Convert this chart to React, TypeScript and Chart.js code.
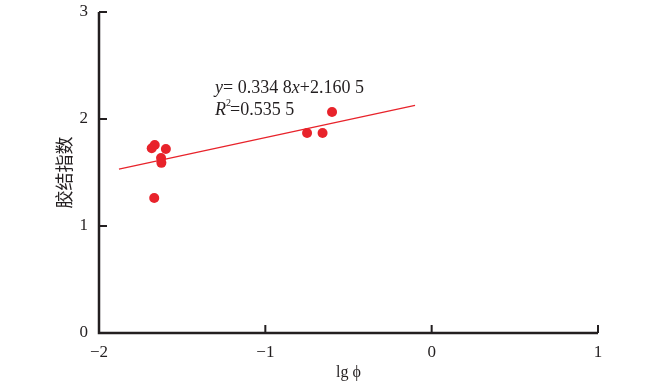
import React, { useEffect, useRef } from "react";
import { Chart, registerables } from "chart.js";

Chart.register(...registerables);

const pointX = [-1.683, -1.665, -1.598, -1.627, -1.625, -1.668, -0.749, -0.656, -0.599];
const pointY = [1.727, 1.757, 1.72, 1.636, 1.59, 1.262, 1.869, 1.869, 2.065];
const fitX = [-1.88, -0.1];
const fitY = [1.531, 2.127];
const xTicks = [-2, -1, 0, 1];
const yTicks = [0, 1, 2, 3];
const eqLine1 = [
  { t: "y", i: true },
  { t: "= 0.334 8", i: false },
  { t: "x", i: true },
  { t: "+2.160 5", i: false },
];
const eqAnchor = { x: -1.302, y1: 2.285, y2: 2.08 };

const RED = "#e8232b";
const INK = "#231f20";
const SERIF = "'Liberation Serif', 'Times New Roman', serif";

const axesPlugin = {
  id: "customAxes",
  afterDraw(chart: any) {
    const ctx = chart.ctx;
    const { left, right, top, bottom } = chart.chartArea;
    const xs = chart.scales.x;
    const ys = chart.scales.y;
    ctx.save();
    ctx.strokeStyle = INK;
    ctx.lineWidth = 2.5;
    ctx.beginPath();
    ctx.moveTo(left, top);
    ctx.lineTo(left, bottom);
    ctx.lineTo(right, bottom);
    ctx.stroke();
    ctx.lineWidth = 2;
    ctx.beginPath();
    for (const v of yTicks) {
      const p = ys.getPixelForValue(v);
      ctx.moveTo(left, p);
      ctx.lineTo(left + 8, p);
    }
    for (const v of xTicks) {
      const p = xs.getPixelForValue(v);
      ctx.moveTo(p, bottom);
      ctx.lineTo(p, bottom - 8);
    }
    ctx.stroke();

    // equation annotation
    ctx.fillStyle = INK;
    ctx.textBaseline = "middle";
    ctx.textAlign = "left";
    let x = xs.getPixelForValue(eqAnchor.x);
    const y1 = ys.getPixelForValue(eqAnchor.y1);
    for (const seg of eqLine1) {
      ctx.font = (seg.i ? "italic " : "") + "18px " + SERIF;
      ctx.fillText(seg.t, x, y1);
      x += ctx.measureText(seg.t).width;
    }
    x = xs.getPixelForValue(eqAnchor.x);
    const y2 = ys.getPixelForValue(eqAnchor.y2);
    ctx.font = "italic 18px " + SERIF;
    ctx.fillText("R", x, y2);
    x += ctx.measureText("R").width;
    ctx.font = "10px " + SERIF;
    ctx.fillText("2", x, y2 - 7);
    x += ctx.measureText("2").width - 1;
    ctx.font = "18px " + SERIF;
    ctx.fillText("=0.535 5", x, y2);
    ctx.restore();
  },
};

export default function App() {
  const ref = useRef<HTMLCanvasElement>(null);
  useEffect(() => {
    if (!ref.current) return;
    const chart = new Chart(ref.current, {
      type: "scatter",
      data: {
        datasets: [
          {
            type: "line",
            data: fitX.map((x, i) => ({ x, y: fitY[i] })),
            borderColor: RED,
            borderWidth: 1.3,
            pointRadius: 0,
            fill: false,
          } as any,
          {
            data: pointX.map((x, i) => ({ x, y: pointY[i] })),
            backgroundColor: RED,
            borderColor: RED,
            pointRadius: 5,
            borderWidth: 0,
          },
        ],
      },
      options: {
        animation: false,
        responsive: false,
        maintainAspectRatio: false,
        layout: { padding: { left: 0, top: 12, right: 64, bottom: 0 } },
        plugins: { legend: { display: false }, tooltip: { enabled: false } },
        scales: {
          x: {
            type: "linear",
            min: -2,
            max: 1,
            afterBuildTicks: (s: any) => {
              s.ticks = xTicks.map((v) => ({ value: v }));
            },
            afterFit: (s: any) => {
              s.height = 59;
              s.paddingLeft = 0;
              s.paddingRight = 0;
            },
            grid: { display: false, drawTicks: false },
            border: { display: false },
            ticks: {
              padding: 9,
              color: INK,
              font: { family: SERIF, size: 17 },
              callback: (v: any) => (v < 0 ? "\u2212" + Math.abs(v) : String(v)),
            },
            title: {
              display: true,
              text: "lg \u03d5",
              color: INK,
              font: { family: SERIF, size: 16 },
              padding: { top: 0, bottom: 10 },
            },
          },
          y: {
            type: "linear",
            min: 0,
            max: 3,
            afterBuildTicks: (s: any) => {
              s.ticks = yTicks.map((v) => ({ value: v }));
            },
            afterFit: (s: any) => {
              s.width = 99;
              s.paddingTop = 0;
              s.paddingBottom = 0;
            },
            grid: { display: false, drawTicks: false },
            border: { display: false },
            ticks: {
              padding: 11,
              color: INK,
              font: { family: SERIF, size: 17 },
            },
            title: {
              display: true,
              text: "胶结指数",
              color: INK,
              font: { family: "'Noto Sans CJK SC'", size: 18 },
              padding: { top: 53, bottom: 0 },
            },
          },
        },
      },
      plugins: [axesPlugin],
    });
    return () => chart.destroy();
  }, []);
  return (
    <div style={{ position: "fixed", left: 0, top: 0, width: 662, height: 392, background: "#fff" }}>
      <canvas ref={ref} width={662} height={392} style={{ width: 662, height: 392 }} />
    </div>
  );
}
